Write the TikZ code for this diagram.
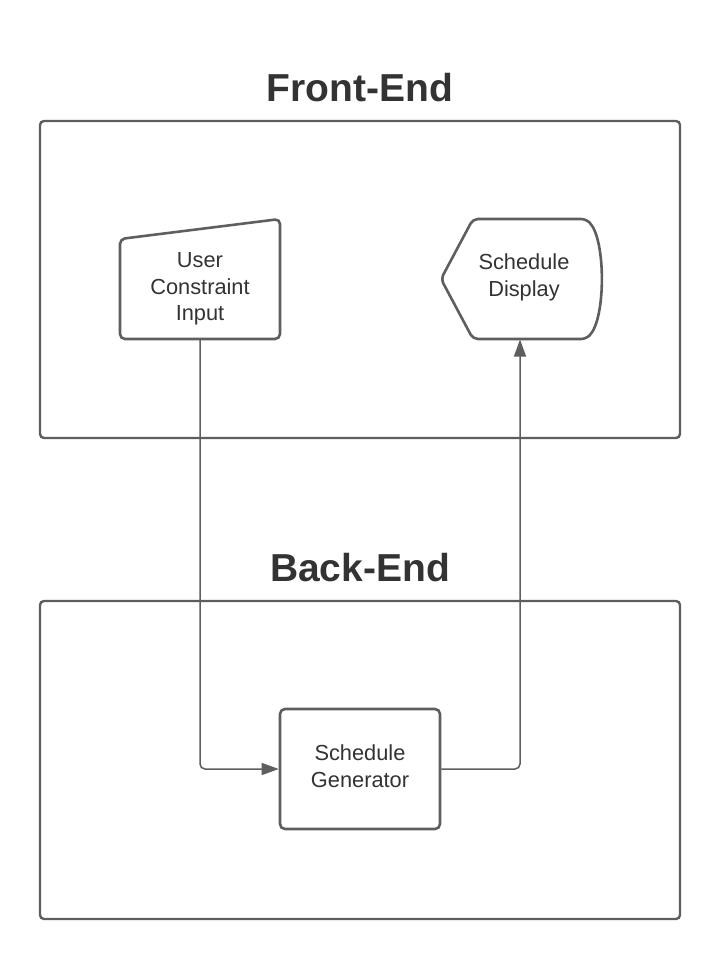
\documentclass[tikz,border=0pt]{standalone}
\usepackage{fontspec}
\setmainfont{Liberation Sans}
\usetikzlibrary{arrows.meta}
\definecolor{linegray}{HTML}{5E5E5E}
\definecolor{textgray}{HTML}{333333}
\tikzset{
  container/.style={draw=linegray, line width=2.4pt, rounded corners=4pt},
  shapeline/.style={draw=linegray, line width=2.6pt, rounded corners=5pt, line join=round},
  title/.style={font=\fontsize{39}{44}\selectfont\bfseries, text=textgray},
  lbl/.style={font=\fontsize{21.8}{26.5}\selectfont, text=textgray, align=center},
  conn/.style={draw=linegray, line width=1.5pt, rounded corners=5pt, -{Triangle[length=17pt,width=12pt]}}
}
\begin{document}
\begin{tikzpicture}[x=1pt,y=-1pt]
\useasboundingbox (0,0) rectangle (720,960);
\fill[white] (0,0) rectangle (720,960);
% containers
\draw[container] (40,121) rectangle (680,438);
\draw[container] (40,601) rectangle (680,919);
\node[title] (fetitle) at (360,88) {Front-End};
\node[title] (betitle) at (360,568) {Back-End};
% User Constraint Input (manual input)
\draw[shapeline] (120,239) -- (280,219) -- (280,339) -- (120,339) -- cycle;
\node[lbl] (uci) at (200,289) {User\\Constraint\\Input};
\coordinate (ucib) at (200,339);
% Schedule Display (display shape)
\draw[shapeline] (441,279) -- (473,219) -- (586,219)
  .. controls (606,239) and (606,319) .. (586,339) -- (473,339) -- cycle;
\node[lbl] (sd) at (524,277.5) {Schedule\\Display};
\coordinate (sdb) at (520,339.5);
% Schedule Generator
\node[shapeline, draw, minimum width=160pt, minimum height=120pt, inner sep=0pt] (sg) at (360,769) {};
\node[lbl] at (360,766) {Schedule\\Generator};
% connectors
\draw[conn] (ucib) |- (sg.west);
\draw[conn] (sg.east) -| (sdb);
\end{tikzpicture}
\end{document}
